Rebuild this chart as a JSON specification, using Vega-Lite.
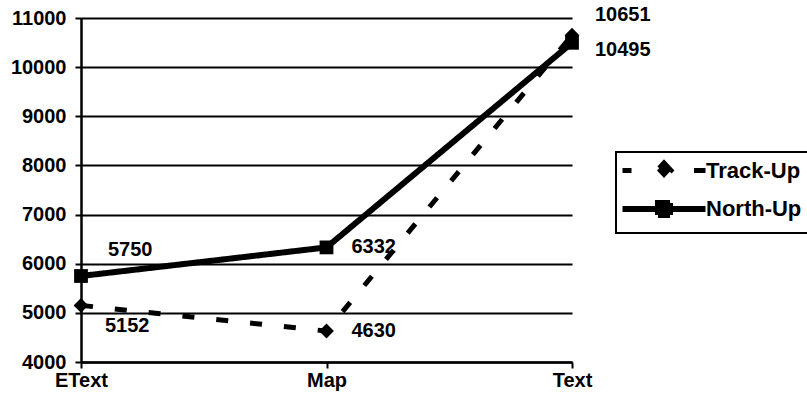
{
  "$schema": "https://vega.github.io/schema/vega-lite/v6.json",
  "autosize": "none",
  "width": 491,
  "height": 344,
  "padding": {"left": 81, "top": 18, "right": 235, "bottom": 48},
  "background": "white",
  "config": {
    "view": {"stroke": null},
    "font": "Liberation Sans",
    "axis": {"labelFont": "Liberation Sans", "labelFontWeight": "bold", "labelFontSize": 20, "labelColor": "black", "domainColor": "black", "tickColor": "black", "domainWidth": 2.5, "tickWidth": 2}
  },
  "data": {"values": [
    {"cond": "EText", "series": "Track-Up", "value": 5152},
    {"cond": "Map", "series": "Track-Up", "value": 4630},
    {"cond": "Text", "series": "Track-Up", "value": 10651},
    {"cond": "EText", "series": "North-Up", "value": 5750},
    {"cond": "Map", "series": "North-Up", "value": 6332},
    {"cond": "Text", "series": "North-Up", "value": 10495}
  ]},
  "encoding": {
    "x": {"field": "cond", "type": "ordinal", "sort": ["EText", "Map", "Text"], "scale": {"type": "point", "padding": 0},
      "axis": {"title": null, "labelAngle": 0, "labelPadding": 2, "tickSize": 6, "grid": false}},
    "y": {"field": "value", "type": "quantitative", "scale": {"domain": [4000, 11000], "nice": false},
      "axis": {"title": null, "values": [4000,5000,6000,7000,8000,9000,10000,11000], "grid": true, "gridColor": "black", "gridWidth": 2, "gridOpacity": 1, "tickSize": 6, "labelPadding": 9, "format": "d"}}
  },
  "layer": [
    {
      "mark": {"type": "line", "color": "black"},
      "encoding": {
        "strokeDash": {"field": "series", "type": "nominal", "scale": {"domain": ["Track-Up", "North-Up"], "range": [[12, 22], [1, 0]]},
          "legend": {
            "title": null, "orient": "none", "legendX": 535, "legendY": 134,
            "strokeColor": "black", "padding": 6, "labelFont": "Liberation Sans", "labelFontWeight": "bold", "labelFontSize": 22, "labelColor": "black",
            "symbolSize": 400, "symbolStrokeWidth": 4, "symbolStrokeColor": "black", "symbolFillColor": "black", "symbolOffset": 29, "rowPadding": 3, "labelOffset": 29, "cornerRadius": 0,
            "encode": {
              "legend": {"update": {"strokeWidth": {"value": 2}}},
              "symbols": {"update": {"shape": {"signal": "datum.value === 'Track-Up' ? 'M-4.15,0L-3.25,0M3.0,0L4.15,0M0,-0.75L0.7,0L0,0.75L-0.7,0Z' : 'M-4.15,0L4.15,0M-0.6,-0.6L0.6,-0.6L0.6,0.6L-0.6,0.6Z'"}, "strokeDash": {"value": [1, 0]}, "strokeWidth": {"signal": "datum.value === 'Track-Up' ? 5 : 6"}}}}
          }},
        "strokeWidth": {"field": "series", "type": "nominal", "scale": {"domain": ["Track-Up", "North-Up"], "range": [5, 6]}, "legend": null}
      }
    },
    {
      "transform": [{"filter": "datum.series === 'Track-Up'"}],
      "mark": {"type": "point", "shape": "diamond", "filled": true, "color": "black", "size": 220, "opacity": 1}
    },
    {
      "transform": [{"filter": "datum.series === 'North-Up'"}],
      "mark": {"type": "point", "shape": "square", "filled": true, "color": "black", "size": 190, "opacity": 1}
    },
    {
      "transform": [{"filter": "datum.cond === 'EText' && datum.series === 'North-Up'"}],
      "mark": {"type": "text", "align": "left", "dx": 27, "dy": -26, "font": "Liberation Sans", "fontWeight": "bold", "fontSize": 20, "color": "black"},
      "encoding": {"text": {"field": "value", "type": "quantitative", "format": "d"}}
    },
    {
      "transform": [{"filter": "datum.cond === 'EText' && datum.series === 'Track-Up'"}],
      "mark": {"type": "text", "align": "left", "dx": 24, "dy": 21, "font": "Liberation Sans", "fontWeight": "bold", "fontSize": 20, "color": "black"},
      "encoding": {"text": {"field": "value", "type": "quantitative", "format": "d"}}
    },
    {
      "transform": [{"filter": "datum.cond === 'Map'"}],
      "mark": {"type": "text", "align": "left", "dx": 25, "dy": 0, "font": "Liberation Sans", "fontWeight": "bold", "fontSize": 20, "color": "black"},
      "encoding": {"text": {"field": "value", "type": "quantitative", "format": "d"}}
    },
    {
      "transform": [{"filter": "datum.cond === 'Text' && datum.series === 'Track-Up'"}],
      "mark": {"type": "text", "align": "left", "dx": 23, "dy": -20, "font": "Liberation Sans", "fontWeight": "bold", "fontSize": 20, "color": "black"},
      "encoding": {"text": {"field": "value", "type": "quantitative", "format": "d"}}
    },
    {
      "transform": [{"filter": "datum.cond === 'Text' && datum.series === 'North-Up'"}],
      "mark": {"type": "text", "align": "left", "dx": 23, "dy": 7, "font": "Liberation Sans", "fontWeight": "bold", "fontSize": 20, "color": "black"},
      "encoding": {"text": {"field": "value", "type": "quantitative", "format": "d"}}
    }
  ]
}
